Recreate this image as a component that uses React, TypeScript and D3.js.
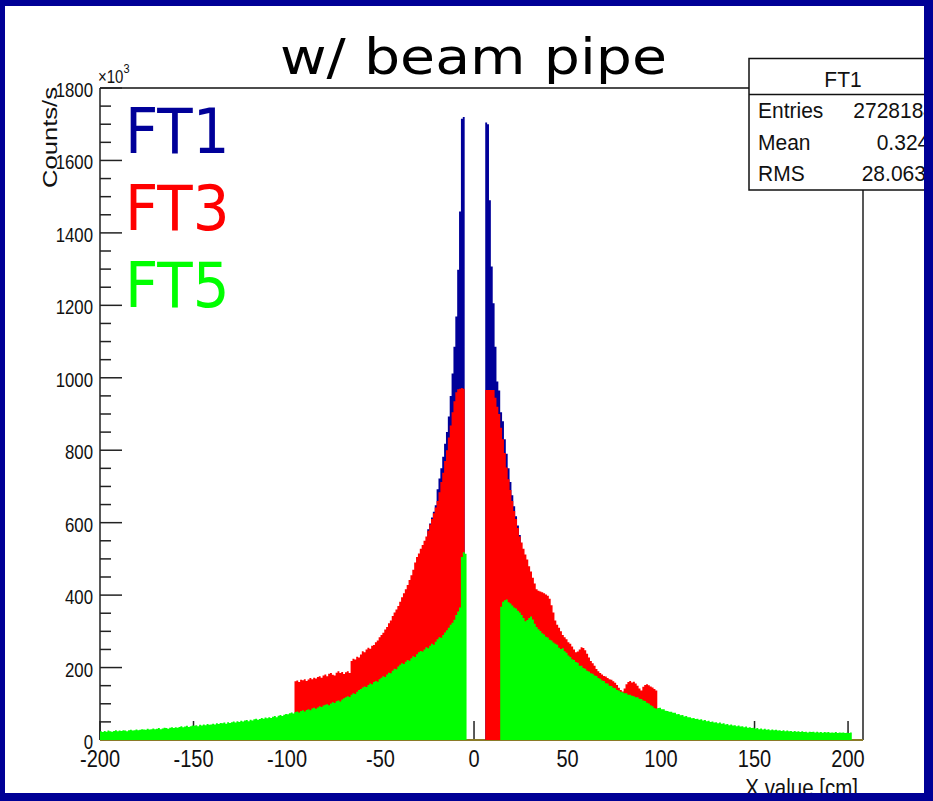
import React from "react";
import * as d3 from "d3";

// ---------- data (values in units of 10^3 counts/s, 1 cm bins) ----------
const xTickValues = [-200, -150, -100, -50, 0, 50, 100, 150, 200];
const yTickValues = [0, 200, 400, 600, 800, 1000, 1200, 1400, 1600, 1800];
const legendLabels = ["FT1", "FT3", "FT5"];
const statsTitle = "FT1";
const statsLabels = ["Entries", "Mean", "RMS"];
const statsValues = ["2728184", "0.3243", "28.063"];

// FT5 (green): bins start at -200
const ft5Start = -200;
const ft5Values = [
  24, 22, 25, 23, 26, 24, 23, 25, 27, 24,
  26, 25, 27, 26, 24, 27, 28, 26, 27, 29,
  27, 28, 30, 29, 28, 31, 29, 30, 32, 30,
  31, 33, 30, 32, 34, 33, 31, 34, 35, 33,
  35, 34, 36, 38, 35, 37, 39, 36, 38, 40,
  39, 41, 38, 42, 40, 43, 41, 44, 42, 43,
  45, 43, 46, 44, 47, 46, 48, 45, 49, 47,
  49, 51, 48, 52, 50, 53, 51, 54, 55, 52,
  56, 54, 57, 59, 56, 58, 61, 59, 62, 60,
  63, 61, 64, 66, 63, 67, 69, 66, 70, 72,
  71, 74, 76, 73, 77, 79, 76, 80, 82, 79,
  83, 85, 82, 87, 89, 86, 90, 93, 91, 95,
  97, 99, 96, 101, 104, 102, 107, 109, 106, 112,
  115, 118, 121, 119, 125, 129, 127, 133, 138, 141,
  145, 148, 146, 152, 156, 154, 160, 163, 161, 168,
  172, 176, 174, 181, 186, 184, 191, 197, 195, 203,
  208, 212, 210, 216, 221, 219, 226, 231, 229, 237,
  242, 246, 244, 250, 256, 253, 260, 266, 263, 271,
  278, 284, 282, 290, 297, 303, 310, 318, 324, 332,
  345, 355, 366, 505, 518, 514,
  0, 0, 0, 0, 0, 0, 0, 0, 0, 0, 0, 0, 0, 0, 0, 0, 0, 0,
  368, 382, 386, 388, 380, 377, 371, 366, 363, 357,
  352, 345, 337, 328, 331, 337, 341, 333, 321, 312,
  306, 301, 295, 291, 285, 283, 277, 275, 269, 266,
  263, 255, 251, 253, 245, 241, 233, 229, 223, 221,
  215, 213, 205, 205, 199, 197, 191, 189, 184, 183,
  178, 177, 171, 169, 164, 163, 157, 156, 150, 149,
  144, 143, 138, 137, 133, 132, 129, 129, 125, 125,
  122, 121, 118, 118, 114, 113, 109, 108, 103, 101,
  96, 93, 88, 86, 88, 89, 85, 85, 81, 80,
  78, 78, 75, 75, 71, 72, 68, 69, 65, 66,
  63, 63, 60, 61, 58, 59, 56, 57, 54, 55,
  52, 53, 50, 51, 48, 49, 46, 48, 45, 46,
  43, 44, 41, 43, 40, 41, 38, 40, 37, 38,
  35, 37, 34, 35, 33, 34, 31, 33, 30, 32,
  29, 31, 28, 30, 27, 29, 27, 28, 26, 27,
  25, 27, 24, 26, 24, 25, 23, 25, 23, 24,
  22, 24, 22, 23, 21, 23, 22, 23, 21, 23,
  21, 22, 20, 22, 21, 22, 20, 21, 20, 22,
  19, 21, 20, 21, 19, 20, 19, 21,
];

// FT3 (red): bins start at -96
const ft3Start = -96;
const ft3Values = [
  162, 164, 160, 166, 165, 168, 163, 167, 171, 168,
  172, 170, 174, 176, 172, 178, 181, 176, 183, 185,
  180, 178, 186, 190, 185, 188, 182, 187, 190, 185,
  218, 224, 222, 230, 228, 236, 245, 242, 250, 255,
  252, 260, 262, 270, 275, 284, 290, 296, 305, 312,
  322, 330, 342, 352, 360, 370, 382, 394, 405, 416,
  428, 442, 455, 470, 490, 505, 515, 528, 538, 550,
  562, 578, 595, 610, 626, 642, 660, 684, 712, 738,
  770, 800, 835, 868, 905, 935, 960, 968, 970, 972,
  970,
  0, 0, 0, 0, 0, 0, 0, 0, 0, 0, 0,
  966, 966, 966, 966, 966, 945, 920, 900, 862, 830,
  792, 752, 720, 690, 660, 632, 610, 585, 562, 545,
  528, 512, 498, 480, 465, 448, 432, 416, 412, 410,
  408, 405, 402, 398, 390, 372, 352, 330, 318, 310,
  300, 290, 284, 278, 270, 266, 258, 250, 242, 244,
  250, 256, 254, 248, 238, 228, 218, 212, 205, 196,
  190, 185, 181, 177, 175, 171, 168, 166, 162, 158,
  152, 144, 138, 134, 142, 154, 160, 163, 159, 161,
  156, 150, 142, 137, 147, 152, 154, 151, 148, 145,
  141, 137,
];

// FT1 (navy): bins start at -25 (only the part standing above FT3)
const ft1Start = -25;
const ft1Values = [
  582, 598, 614, 630, 648, 692, 722, 750, 782, 818,
  850, 893, 950, 1012, 1086, 1169, 1298, 1459, 1715, 1720,
  0, 0, 0, 0, 0, 0, 0, 0, 0, 0, 0,
  1705, 1700, 1490, 1307, 1206, 1086, 990, 965, 905, 880,
  830, 790, 750, 712, 676, 645, 618, 592, 566,
];

const COLORS = { ft1: "#000099", ft3: "#ff0000", ft5: "#00ff00" };
const legendColors = [COLORS.ft1, COLORS.ft3, COLORS.ft5];
const BORDER = "#000096";
const AXIS_FONT = "'Liberation Sans', Arial, Helvetica, sans-serif";
const COMIC_FONT = "'Comic Sans MS', 'DejaVu Sans', sans-serif";

type Scale = d3.ScaleLinear<number, number>;

function histPath(start: number, values: number[], x: Scale, y: Scale): string {
  const p = d3.path();
  let i = 0;
  while (i < values.length) {
    if (values[i] <= 0) {
      i++;
      continue;
    }
    p.moveTo(x(start + i), y(0));
    while (i < values.length && values[i] > 0) {
      p.lineTo(x(start + i), y(values[i]));
      p.lineTo(x(start + i + 1), y(values[i]));
      i++;
    }
    p.lineTo(x(start + i), y(0));
    p.closePath();
  }
  return p.toString();
}

export default function App() {
  const W = 933;
  const H = 801;
  const left = 100;
  const right = 863;
  const top = 88;
  const bottom = 740;

  const x = d3.scaleLinear().domain([-200, 208]).range([left, right]);
  const y = d3.scaleLinear().domain([0, 1800]).range([bottom, top]);
  const yMinor = d3.range(0, 1800, 50).filter((v) => v % 200 !== 0);

  const statsX = 749;
  const statsTop = 58.5;
  const statsBottom = 190;
  const statsRows = [118.3, 150, 180.5];
  const statsValueX = [853.3, 876.7, 861.7];
  const legendBase = [153, 230, 307];

  return (
    <svg
      width={W}
      height={H}
      viewBox={`0 0 ${W} ${H}`}
      style={{ position: "absolute", left: 0, top: 0, display: "block" }}
    >
      <rect x={0} y={0} width={W} height={H} fill="#ffffff" />

      {/* frame */}
      <g stroke="#111" strokeWidth={1.4} fill="none">
        <line x1={left} y1={top} x2={right} y2={top} />
        <line x1={right} y1={top} x2={right} y2={bottom} />
        <line x1={left} y1={top} x2={left} y2={bottom} />
        <line x1={left} y1={bottom} x2={right} y2={bottom} />
      </g>

      {/* y ticks */}
      <g stroke="#222" strokeWidth={1.5}>
        {yTickValues.map((v) => (
          <line key={"ym" + v} x1={left} x2={left + 22} y1={y(v)} y2={y(v)} />
        ))}
        {yMinor.map((v) => (
          <line key={"yn" + v} x1={left} x2={left + 11} y1={y(v)} y2={y(v)} />
        ))}
      </g>
      {/* x ticks */}
      <g stroke="#222" strokeWidth={1.5}>
        {xTickValues.map((v) => (
          <line key={"xm" + v} x1={x(v)} x2={x(v)} y1={bottom} y2={bottom - 19} />
        ))}
      </g>

      {/* baseline drawn by histogram outlines */}
      <line x1={left} x2={right} y1={bottom} y2={bottom} stroke="#8a7a28" strokeWidth={2} />

      {/* histograms */}
      <path d={histPath(ft1Start, ft1Values, x, y)} fill={COLORS.ft1} />
      <path d={histPath(ft3Start, ft3Values, x, y)} fill={COLORS.ft3} />
      <path d={histPath(ft5Start, ft5Values, x, y)} fill={COLORS.ft5} />

      {/* y tick labels */}
      <g fontFamily={AXIS_FONT} fontSize={16.8} fill="#111" textAnchor="end">
        {yTickValues.map((v) => (
          <text key={"yl" + v} transform={`translate(${93},${y(v) + 9}) scale(1,1.25)`}>
            {v}
          </text>
        ))}
      </g>
      {/* x tick labels */}
      <g fontFamily={AXIS_FONT} fontSize={20} fill="#111" textAnchor="middle">
        {xTickValues.map((v) => (
          <text key={"xl" + v} transform={`translate(${x(v)},${767}) scale(1,1.17)`}>
            {v}
          </text>
        ))}
      </g>

      {/* exponent */}
      <text
        transform={`translate(${98},${83}) scale(1,1.2)`}
        fontFamily={AXIS_FONT}
        fontSize={15}
        fill="#111"
      >
        ×10
        <tspan fontSize={11} dy={-8}>
          3
        </tspan>
      </text>

      {/* axis titles */}
      <text
        transform={`translate(${57},${87}) scale(1,1.22) rotate(-90)`}
        fontFamily={AXIS_FONT}
        fontSize={21}
        fill="#111"
        textAnchor="end"
      >
        Counts/s
      </text>
      <text
        transform={`translate(${858},${795.5}) scale(1,1.17)`}
        fontFamily={AXIS_FONT}
        fontSize={20.5}
        fill="#111"
        textAnchor="end"
      >
        X value [cm]
      </text>

      {/* title */}
      <text
        x={280}
        y={74}
        fontFamily={COMIC_FONT}
        fontSize={50}
        fill="#000"
        textLength={387}
        lengthAdjust="spacingAndGlyphs"
      >
        w/ beam pipe
      </text>

      {/* legend */}
      {legendLabels.map((t, i) => (
        <text
          key={t}
          transform={`translate(${125},${legendBase[i]}) scale(0.92,1)`}
          fontFamily={COMIC_FONT}
          fontSize={63}
          fill={legendColors[i]}
        >
          {t}
        </text>
      ))}

      {/* stats box */}
      <rect
        x={statsX}
        y={statsTop}
        width={200}
        height={statsBottom - statsTop}
        fill="#fff"
        stroke="#111"
        strokeWidth={1.5}
      />
      <line x1={statsX} x2={W} y1={94.5} y2={94.5} stroke="#111" strokeWidth={1.3} />
      <g fontFamily={AXIS_FONT} fontSize={21} fill="#111">
        <text transform={`translate(${843},${86.5}) scale(1,1.08)`} textAnchor="middle">
          {statsTitle}
        </text>
        {statsLabels.map((t, i) => (
          <text key={t} transform={`translate(${758},${statsRows[i]}) scale(1,1.08)`}>
            {t}
          </text>
        ))}
        {statsValues.map((t, i) => (
          <text key={t} transform={`translate(${statsValueX[i]},${statsRows[i]}) scale(1,1.08)`}>
            {t}
          </text>
        ))}
      </g>

      {/* outer blue border */}
      <g fill={BORDER}>
        <rect x={0} y={0} width={W} height={6} />
        <rect x={0} y={0} width={5} height={H} />
        <rect x={0} y={793} width={W} height={H - 793} />
        <rect x={924} y={0} width={W - 924} height={H} />
      </g>
    </svg>
  );
}
